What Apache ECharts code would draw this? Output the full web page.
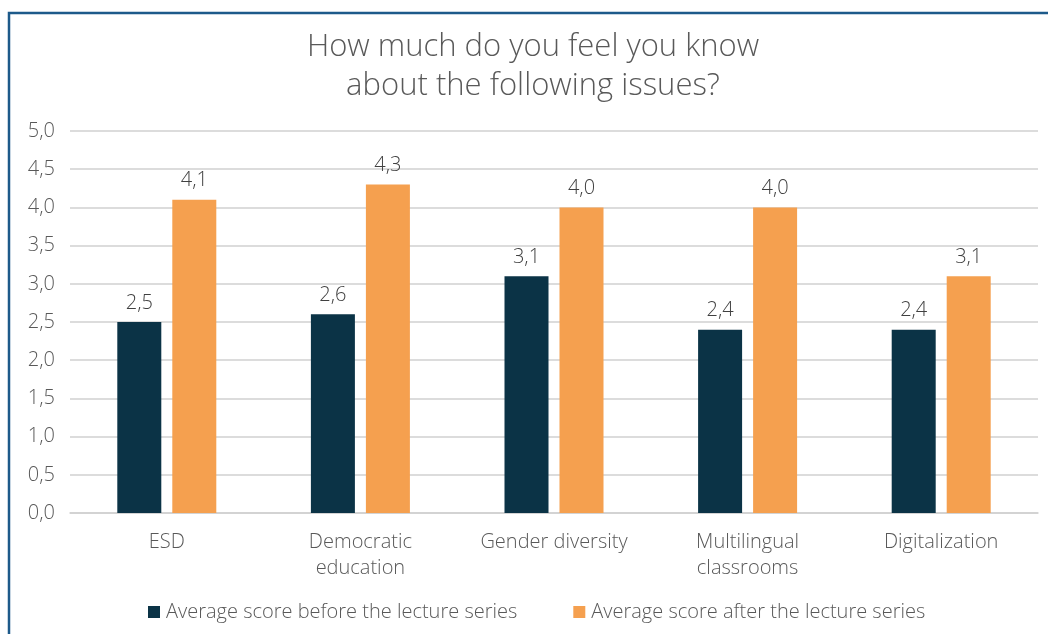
<!DOCTYPE html>
<html><head><meta charset="utf-8">
<script src="https://cdn.jsdelivr.net/npm/echarts@6/dist/echarts.min.js"></script>
<style>html,body{margin:0;padding:0;background:#fff}#c{width:1048px;height:634px}</style>
</head><body><div id="c"></div>
<script>
const categories = ['ESD', 'Democratic\neducation', 'Gender diversity', 'Multilingual\nclassrooms', 'Digitalization'];
const before = [2.5, 2.6, 3.1, 2.4, 2.4];
const after = [4.1, 4.3, 4.0, 4.0, 3.1];
const seriesNames = ['Average score before the lecture series', 'Average score after the lecture series'];
const titleText = 'How much do you feel you know\nabout the following issues?';

const fmt = v => v.toFixed(1).replace('.', ',');
const font = 'Open Sans';
const chart = echarts.init(document.getElementById('c'));
chart.setOption({
  animation: false,
  textStyle: { fontFamily: font },
  graphic: [{
    type: 'rect', shape: { x: 9, y: 13, width: 1200, height: 800 },
    style: { fill: 'none', stroke: '#1d5a8a', lineWidth: 2.5 }, silent: true
  }],
  title: {
    text: titleText, left: 528, textAlign: 'center', top: 23,
    textStyle: { fontFamily: font, fontSize: 31, fontWeight: 300, color: '#595959', lineHeight: 39 }
  },
  legend: {
    bottom: 7, left: 143, itemWidth: 12, itemHeight: 12, itemGap: 56,
    icon: 'rect',
    textStyle: { fontFamily: font, fontSize: 20, fontWeight: 300, color: '#595959', padding: [0, 0, 0, 1] },
    data: seriesNames
  },
  grid: { left: 70, right: 10, top: 131, bottom: 121 },
  xAxis: {
    type: 'category', data: categories,
    axisLine: { lineStyle: { color: '#d0d0d0', width: 1.5 } },
    axisTick: { show: false },
    axisLabel: { fontFamily: font, fontSize: 20, fontWeight: 300, color: '#595959', margin: 16, lineHeight: 26 }
  },
  yAxis: {
    type: 'value', min: 0, max: 5, interval: 0.5,
    axisLine: { show: false }, axisTick: { show: false },
    splitLine: { lineStyle: { color: '#d0d0d0', width: 1.5 } },
    axisLabel: { fontFamily: font, fontSize: 20, fontWeight: 300, color: '#595959', margin: 15, formatter: v => fmt(v) }
  },
  series: [
    { name: seriesNames[0], type: 'bar', data: before, barWidth: 44, barGap: '25%',
      itemStyle: { color: '#0b3346' },
      label: { show: true, position: 'top', distance: 9, fontFamily: font, fontSize: 20, fontWeight: 300, color: '#404040', formatter: p => fmt(p.value) } },
    { name: seriesNames[1], type: 'bar', data: after, barWidth: 44, barGap: '25%',
      itemStyle: { color: '#f5a04f' },
      label: { show: true, position: 'top', distance: 9, fontFamily: font, fontSize: 20, fontWeight: 300, color: '#404040', formatter: p => fmt(p.value) } }
  ]
});
</script></body></html>
